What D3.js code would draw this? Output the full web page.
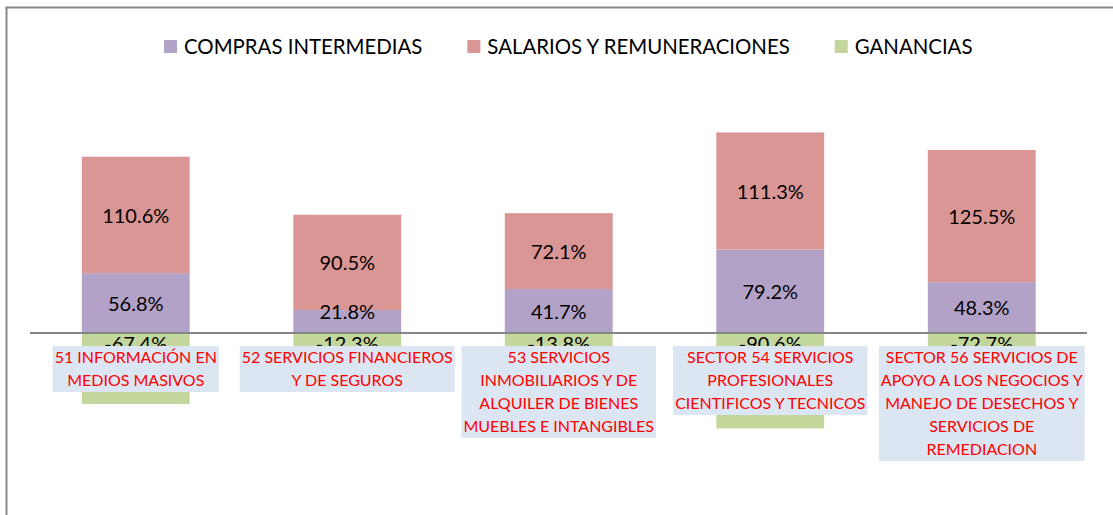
<!DOCTYPE html>
<html>

<head>
    <meta charset="UTF-8">
    <style>
        body {
            margin: 0;
            background-color: #ffffff;
        }

        #chart text {
            font-family: Lato, "Open Sans", sans-serif;
        }

        .value-label {
            font-size: 20px;
            fill: #000000;
        }

        .legend-label {
            font-size: 20.4px;
            fill: #000000;
        }

        .cat-label {
            font-size: 16px;
            fill: #ff0000;
        }
    </style>
    <title>Participación por sector</title>
</head>

<body>
    <svg id="chart" width="1113" height="515"></svg>

    <script src="https://cdn.jsdelivr.net/npm/d3@7"></script>
    <script>
        // datos (%)
        const categories = [
            "51 INFORMACIÓN EN\nMEDIOS MASIVOS",
            "52 SERVICIOS FINANCIEROS\nY DE SEGUROS",
            "53 SERVICIOS\nINMOBILIARIOS Y DE\nALQUILER DE BIENES\nMUEBLES E INTANGIBLES",
            "SECTOR 54 SERVICIOS\nPROFESIONALES\nCIENTIFICOS Y TECNICOS",
            "SECTOR 56 SERVICIOS DE\nAPOYO A LOS NEGOCIOS Y\nMANEJO DE DESECHOS Y\nSERVICIOS DE\nREMEDIACION"
        ];
        const seriesNames = ["COMPRAS INTERMEDIAS", "SALARIOS Y REMUNERACIONES", "GANANCIAS"];
        const compras = [56.8, 21.8, 41.7, 79.2, 48.3];
        const salarios = [110.6, 90.5, 72.1, 111.3, 125.5];
        const ganancias = [-67.4, -12.3, -13.8, -90.6, -72.7];

        const colors = ["#b3a2c7", "#d99694", "#c3d69b"];

        const width = 1113, height = 515;
        const svg = d3.select("#chart");

        svg.append("rect")
            .attr("width", width)
            .attr("height", height)
            .attr("fill", "#ffffff");

        // marco del área del gráfico (sólo se ven los bordes superior e izquierdo)
        svg.append("rect")
            .attr("x", 6.5)
            .attr("y", 7.5)
            .attr("width", 1300)
            .attr("height", 700)
            .attr("fill", "none")
            .attr("stroke", "#878787")
            .attr("stroke-width", 2);

        const rows = categories.map((c, i) => ({
            cat: c,
            compras: compras[i],
            salarios: salarios[i],
            ganancias: ganancias[i]
        }));
        const keys = ["compras", "salarios", "ganancias"];

        const stacked = d3.stack()
            .keys(keys)
            .offset(d3.stackOffsetDiverging)(rows);

        const x = d3.scaleBand()
            .domain(categories)
            .range([30, 1087.5])
            .paddingInner(0.49)
            .paddingOuter(0.245);

        const y = d3.scaleLinear()
            .domain([-100, 200])
            .range([438.3, 122.4]);

        const y0 = y(0);

        // barras
        const layers = svg.append("g")
            .selectAll("g")
            .data(stacked)
            .join("g")
            .attr("fill", (d, i) => colors[i]);

        layers.selectAll("rect")
            .data(d => d)
            .join("rect")
            .attr("x", d => x(d.data.cat))
            .attr("y", d => y(d[1]))
            .attr("width", x.bandwidth())
            .attr("height", d => y(d[0]) - y(d[1]));

        // etiquetas de valores (las negativas quedan casi tapadas, como en el original)
        const labels = svg.append("g");
        stacked.forEach((layer) => {
            labels.selectAll(null)
                .data(layer)
                .join("text")
                .attr("class", "value-label")
                .attr("text-anchor", "middle")
                .attr("x", d => x(d.data.cat) + x.bandwidth() / 2)
                .attr("y", d => {
                    const v = d.data[layer.key];
                    if (v < 0) return y0 + 18;
                    const mid = (y(d[0]) + y(d[1])) / 2;
                    return Math.min(mid, y0 - 22);
                })
                .attr("dy", d => d.data[layer.key] < 0 ? 0 : "0.38em")
                .text(d => d.data[layer.key].toFixed(1) + "%");
        });

        // línea de cero
        svg.append("line")
            .attr("x1", 30)
            .attr("x2", 1087)
            .attr("y1", y0)
            .attr("y2", y0)
            .attr("stroke", "#868686")
            .attr("stroke-width", 2);

        // etiquetas de categoría con fondo azul claro
        const lineH = 23;
        const catG = svg.append("g")
            .selectAll("g")
            .data(categories)
            .join("g")
            .attr("transform", d => `translate(${x(d) + x.bandwidth() / 2}, ${y0 + 13})`);

        catG.each(function (d) {
            const g = d3.select(this);
            const lines = d.split("\n");
            const box = g.append("rect")
                .attr("fill", "#dce6f2");
            const txt = g.selectAll("text")
                .data(lines)
                .join("text")
                .attr("class", "cat-label")
                .attr("text-anchor", "middle")
                .attr("x", 0)
                .attr("y", (l, i) => i * lineH + lineH / 2)
                .attr("dy", "0.35em")
                .text(l => l);
            let w = 0;
            txt.each(function () { w = Math.max(w, this.getComputedTextLength()); });
            box.attr("x", -w / 2 - 2)
                .attr("y", 0)
                .attr("width", w + 4)
                .attr("height", lines.length * lineH);
        });

        // leyenda
        const legend = svg.append("g");
        let lx = 164;
        seriesNames.forEach((name, i) => {
            legend.append("rect")
                .attr("x", lx)
                .attr("y", 40)
                .attr("width", 13)
                .attr("height", 13)
                .attr("fill", colors[i]);
            const t = legend.append("text")
                .attr("class", "legend-label")
                .attr("x", lx + 20)
                .attr("y", 53.5)
                .text(name);
            lx += 20 + t.node().getComputedTextLength() + 45;
        });
    </script>
</body>

</html>
